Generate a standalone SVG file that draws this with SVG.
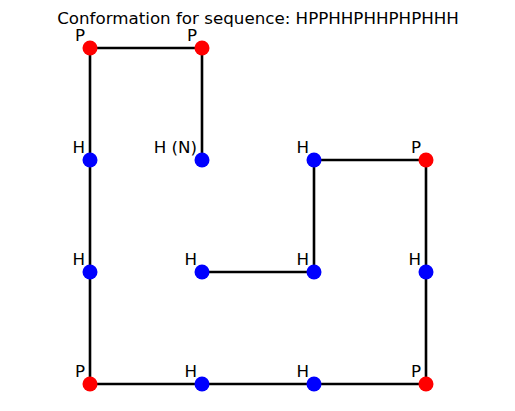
<svg xmlns="http://www.w3.org/2000/svg" width="515" height="411" viewBox="0 0 515 411">
<style>
text{font-family:"DejaVu Sans",sans-serif;font-size:16.7px;fill:#000}
.l{text-anchor:end}
.H{fill:#0000ff}
.P{fill:#ff0000}
</style>
<rect width="515" height="411" fill="#fff"/>
<text x="258" y="24" text-anchor="middle">Conformation for sequence: HPPHHPHHPHPHHH</text>
<g id="connectors">
<polyline points="202,160 202,48 90,48 90,160 90,272 90,384 202,384 314,384 426,384 426,272 426,160 314,160 314,272 202,272" fill="none" stroke="#000" stroke-width="2.6" stroke-linejoin="miter"/>
</g>
<g id="n1"><circle class="H" cx="202" cy="160" r="7.5"/><text class="l" x="197" y="153">H (N)</text></g>
<g id="n2"><circle class="P" cx="202" cy="48" r="7.5"/><text class="l" x="197" y="41">P</text></g>
<g id="n3"><circle class="P" cx="90" cy="48" r="7.5"/><text class="l" x="85" y="41">P</text></g>
<g id="n4"><circle class="H" cx="90" cy="160" r="7.5"/><text class="l" x="85" y="153">H</text></g>
<g id="n5"><circle class="H" cx="90" cy="272" r="7.5"/><text class="l" x="85" y="265">H</text></g>
<g id="n6"><circle class="P" cx="90" cy="384" r="7.5"/><text class="l" x="85" y="377">P</text></g>
<g id="n7"><circle class="H" cx="202" cy="384" r="7.5"/><text class="l" x="197" y="377">H</text></g>
<g id="n8"><circle class="H" cx="314" cy="384" r="7.5"/><text class="l" x="309" y="377">H</text></g>
<g id="n9"><circle class="P" cx="426" cy="384" r="7.5"/><text class="l" x="421" y="377">P</text></g>
<g id="n10"><circle class="H" cx="426" cy="272" r="7.5"/><text class="l" x="421" y="265">H</text></g>
<g id="n11"><circle class="P" cx="426" cy="160" r="7.5"/><text class="l" x="421" y="153">P</text></g>
<g id="n12"><circle class="H" cx="314" cy="160" r="7.5"/><text class="l" x="309" y="153">H</text></g>
<g id="n13"><circle class="H" cx="314" cy="272" r="7.5"/><text class="l" x="309" y="265">H</text></g>
<g id="n14"><circle class="H" cx="202" cy="272" r="7.5"/><text class="l" x="197" y="265">H</text></g>
</svg>
